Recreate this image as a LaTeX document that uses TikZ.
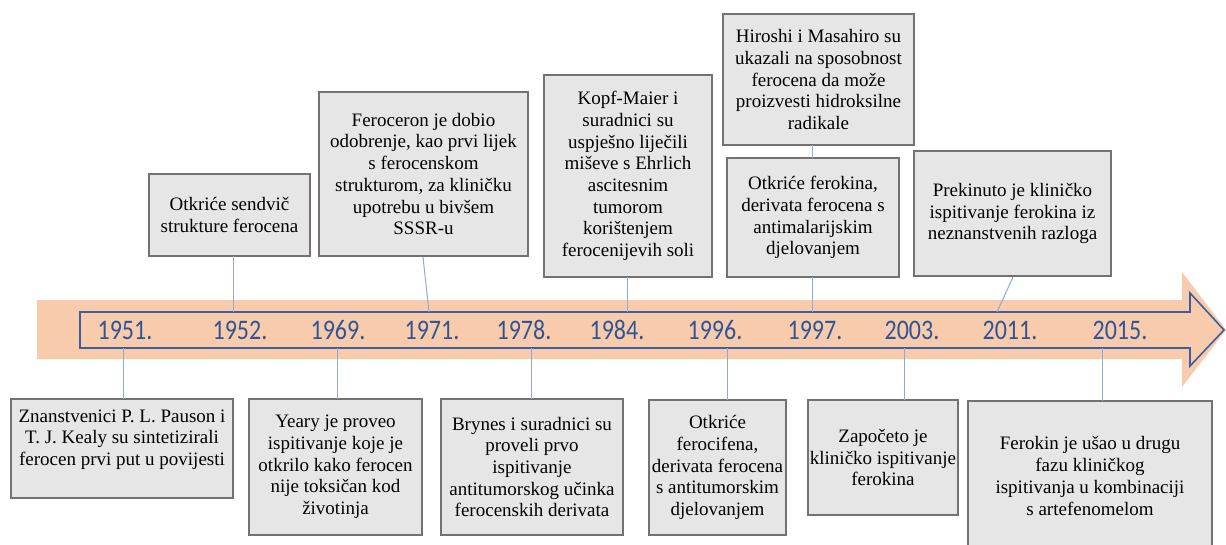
\documentclass[tikz,border=0pt]{standalone}
\usepackage{fontspec}
\setmainfont{Liberation Serif}
\newfontfamily\yearfont{Carlito}
\begin{document}
\definecolor{arroworange}{HTML}{F8CBAD}
\definecolor{arrowblue}{HTML}{3F5E9E}
\definecolor{yearblue}{HTML}{2F5597}
\definecolor{connblue}{HTML}{8FAADC}
\definecolor{boxfill}{HTML}{E7E6E6}
\definecolor{boxline}{HTML}{767171}
\newcommand{\yr}[1]{\scalebox{1}[1.18]{#1}}
\begin{tikzpicture}[x=1pt,y=-1pt,
  evbox/.style={draw=boxline,line width=2.4pt,fill=boxfill,rectangle,inner sep=2pt,outer sep=0pt,align=center,
     font=\fontsize{19}{21.7}\selectfont,text=black},
  yearlbl/.style={font=\yearfont\fontsize{24}{28}\selectfont,text=yearblue,inner sep=0pt},
  conn/.style={draw=connblue,line width=1pt}]
\useasboundingbox (0,0) rectangle (1226,544);
% arrows
\fill[arroworange] (37,300) -- (1182,300) -- (1182,272) -- (1226,330) -- (1182,387) -- (1182,359) -- (37,359) -- cycle;
\draw[arrowblue,line width=1.6pt,line join=miter] (80,312) -- (1190,312) -- (1190,293) -- (1224,330) -- (1190,366) -- (1190,348) -- (80,348) -- cycle;
% years
\node[yearlbl] (y1951) at (125,330) {\yr{1951.}};
\node[yearlbl] (y1952) at (240,330) {\yr{1952.}};
\node[yearlbl] (y1969) at (338,330) {\yr{1969.}};
\node[yearlbl] (y1971) at (432,330) {\yr{1971.}};
\node[yearlbl] (y1978) at (524,330) {\yr{1978.}};
\node[yearlbl] (y1984) at (617,330) {\yr{1984.}};
\node[yearlbl] (y1996) at (715,330) {\yr{1996.}};
\node[yearlbl] (y1997) at (815,330) {\yr{1997.}};
\node[yearlbl] (y2003) at (912,330) {\yr{2003.}};
\node[yearlbl] (y2011) at (1010,330) {\yr{2011.}};
\node[yearlbl] (y2015) at (1120,330) {\yr{2015.}};
% top boxes
\node[evbox,minimum width=161pt,minimum height=82pt] (b1952) at (229.5,215) {Otkriće sendvič\\strukture ferocena};
\node[evbox,minimum width=209pt,minimum height=164pt] (b1971) at (423.5,174) {Feroceron je dobio\\odobrenje, kao prvi lijek\\s ferocenskom\\strukturom, za kliničku\\upotrebu u bivšem\\SSSR-u};
\node[evbox,minimum width=168pt,minimum height=202pt] (b1984) at (628,176) {Kopf-Maier i\\suradnici su\\uspješno liječili\\miševe s Ehrlich\\ascitesnim\\tumorom\\korištenjem\\ferocenijevih soli};
\node[evbox,minimum width=191pt,minimum height=131pt] (bhiro) at (818.5,79.5) {Hiroshi i Masahiro su\\ukazali na sposobnost\\ferocena da može\\proizvesti hidroksilne\\radikale};
\node[evbox,minimum width=172pt,minimum height=119pt] (b1997) at (813,217.5) {Otkriće ferokina,\\derivata ferocena s\\antimalarijskim\\djelovanjem};
\node[evbox,minimum width=197pt,minimum height=125pt] (b2011) at (1012.5,213.5) {Prekinuto je kliničko\\ispitivanje ferokina iz\\neznanstvenih razloga};
% bottom boxes
\node[evbox,minimum width=222pt,minimum height=99pt] (b1951) at (122,448.5) {Znanstvenici P. L. Pauson i\\T. J. Kealy su sintetizirali\\ferocen prvi put u povijesti\\\mbox{}};
\node[evbox,minimum width=173pt,minimum height=136pt] (b1969) at (335.5,467) {Yeary je proveo\\ispitivanje koje je\\otkrilo kako ferocen\\nije toksičan kod\\životinja};
\node[evbox,minimum width=182pt,minimum height=136pt] (b1978) at (532,467) {Brynes i suradnici su\\proveli prvo\\ispitivanje\\antitumorskog učinka\\ferocenskih derivata};
\node[evbox,minimum width=137pt,minimum height=135pt] (b1996) at (717.5,467.5) {Otkriće\\ferocifena,\\derivata ferocena\\s antitumorskim\\djelovanjem};
\node[evbox,minimum width=150pt,minimum height=115pt] (b2003) at (883,457.5) {Započeto je\\kliničko ispitivanje\\ferokina};
\node[evbox,minimum width=244pt,minimum height=150pt] (b2015) at (1090,476) {Ferokin je ušao u drugu\\fazu kliničkog\\ispitivanja u kombinaciji\\s artefenomelom};
% arrow attachment points
\coordinate (a1951) at (123,348);
\coordinate (a1952) at (233,312);
\coordinate (a1969) at (337,348);
\coordinate (a1971) at (429,312);
\coordinate (a1978) at (531,348);
\coordinate (a1984) at (627,312);
\coordinate (a1996) at (727,348);
\coordinate (a1997) at (812,312);
\coordinate (a2003) at (904,348);
\coordinate (a2011) at (997,312);
\coordinate (a2015) at (1102,348);
\coordinate (s1971) at (423,257);
\coordinate (s2011) at (1013,277);
% connectors
\draw[conn] (a1951) -- (a1951 |- b1951.north);
\draw[conn] (a1952) -- (a1952 |- b1952.south);
\draw[conn] (a1969) -- (a1969 |- b1969.north);
\draw[conn] (a1971) -- (s1971);
\draw[conn] (a1978) -- (a1978 |- b1978.north);
\draw[conn] (a1984) -- (a1984 |- b1984.south);
\draw[conn] (a1996) -- (a1996 |- b1996.north);
\draw[conn] (a1997) -- (a1997 |- b1997.south);
\draw[conn] (a1997 |- b1997.north) -- (a1997 |- bhiro.south);
\draw[conn] (a2003) -- (a2003 |- b2003.north);
\draw[conn] (a2011) -- (s2011);
\draw[conn] (a2015) -- (a2015 |- b2015.north);
\end{tikzpicture}
\end{document}
